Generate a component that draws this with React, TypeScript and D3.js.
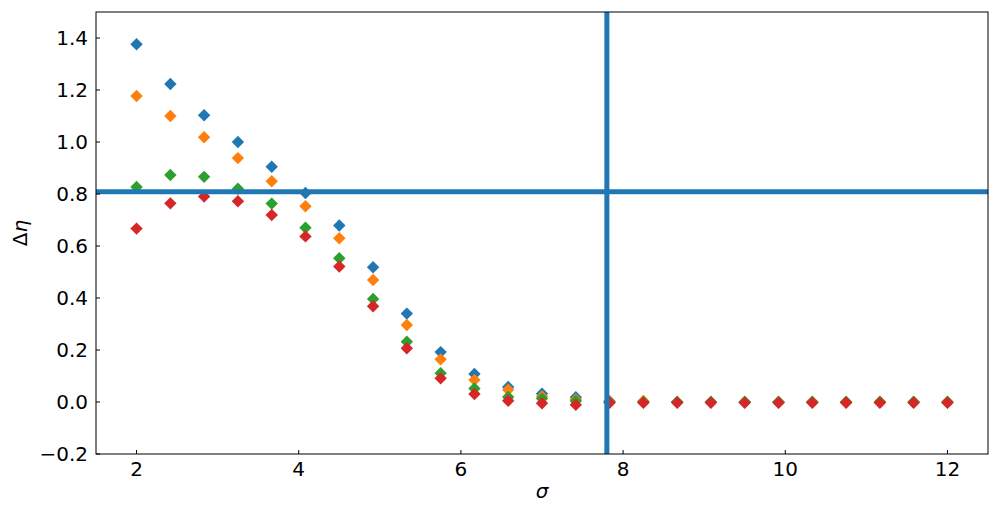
import React from "react";
import * as d3 from "d3";

const sigma = [2, 2.417, 2.833, 3.25, 3.667, 4.083, 4.5, 4.917, 5.333, 5.75, 6.167, 6.583, 7, 7.417, 7.833, 8.25, 8.667, 9.083, 9.5, 9.917, 10.333, 10.75, 11.167, 11.583, 12];
const seriesBlue = [1.376, 1.223, 1.103, 1.0, 0.905, 0.804, 0.679, 0.518, 0.34, 0.192, 0.108, 0.058, 0.032, 0.018, 0.003, 0.001, 0, 0, 0, 0, 0, 0, 0, 0, 0];
const seriesOrange = [1.177, 1.1, 1.018, 0.938, 0.849, 0.753, 0.63, 0.469, 0.296, 0.164, 0.085, 0.047, 0.021, 0.01, 0.002, 0.004, 0, 0, 0, 0, 0, 0, 0, 0, 0];
const seriesGreen = [0.827, 0.873, 0.866, 0.82, 0.763, 0.67, 0.553, 0.396, 0.232, 0.111, 0.052, 0.019, 0.013, 0.004, 0, 0, 0, 0, 0, 0, 0, 0, 0, 0, 0];
const seriesRed = [0.667, 0.764, 0.79, 0.772, 0.719, 0.637, 0.521, 0.368, 0.207, 0.091, 0.031, 0.005, -0.005, -0.011, -0.003, -0.003, -0.003, -0.003, -0.003, -0.003, -0.003, -0.003, -0.003, -0.003, -0.003];
const seriesColors = ["#1f77b4", "#ff7f0e", "#2ca02c", "#d62728"];
const xTicks = [2, 4, 6, 8, 10, 12];
const yTicks = [-0.2, 0, 0.2, 0.4, 0.6, 0.8, 1.0, 1.2, 1.4];
const hLineY = 0.809;
const vLineX = 7.8;

const W = 999, H = 514;
const M = { left: 96, right: 988, top: 12, bottom: 454 };

export default function App() {
  const x = d3.scaleLinear().domain([1.5, 12.5]).range([M.left, M.right]);
  const y = d3.scaleLinear().domain([-0.2, 1.5]).range([M.bottom, M.top]);
  const all = [seriesBlue, seriesOrange, seriesGreen, seriesRed];
  const d = 6.2;
  const diamond = (cx: number, cy: number) =>
    `M${cx},${cy - d}L${cx + d},${cy}L${cx},${cy + d}L${cx - d},${cy}Z`;
  const fmt = (v: number) => {
    const s = v.toFixed(1);
    return v < 0 ? "\u2212" + s.slice(1) : s;
  };
  const font = "'DejaVu Sans', sans-serif";
  const fs = 20;
  return (
    <svg width={W} height={H} style={{ position: "absolute", left: 0, top: 0, display: "block", background: "#fff" }} fontFamily={font}>
      <rect x={0} y={0} width={W} height={H} fill="#fff" />
      <defs>
        <clipPath id="clip">
          <rect x={M.left} y={M.top} width={M.right - M.left} height={M.bottom - M.top} />
        </clipPath>
      </defs>
      <g clipPath="url(#clip)">
        {all.map((ser, si) => (
          <g key={si} fill={seriesColors[si]}>
            {ser.map((v, i) => (
              <path key={i} d={diamond(x(sigma[i]), y(v))} />
            ))}
          </g>
        ))}
        <line x1={M.left} x2={M.right} y1={y(hLineY)} y2={y(hLineY)} stroke="#1f77b4" strokeWidth={5} />
        <line x1={x(vLineX)} x2={x(vLineX)} y1={M.top} y2={M.bottom} stroke="#1f77b4" strokeWidth={5} />
      </g>
      <rect x={M.left} y={M.top} width={M.right - M.left} height={M.bottom - M.top} fill="none" stroke="#000" strokeWidth={1} />
      {xTicks.map((t) => (
        <g key={"x" + t}>
          <line x1={x(t)} x2={x(t)} y1={M.bottom} y2={M.bottom - 4} stroke="#000" strokeWidth={1} />
          <text x={x(t)} y={476} textAnchor="middle" fontSize={fs} fill="#000">{t}</text>
        </g>
      ))}
      {yTicks.map((t) => (
        <g key={"y" + t}>
          <line x1={M.left} x2={M.left + 4} y1={y(t)} y2={y(t)} stroke="#000" strokeWidth={1} />
          <text x={88} y={y(t)} dy="0.36em" textAnchor="end" fontSize={fs} fill="#000">{fmt(t)}</text>
        </g>
      ))}
      <text x={542} y={498} textAnchor="middle" fontSize={fs} fontStyle="italic" fill="#000">σ</text>
      <text transform={`translate(27,${(M.top + M.bottom) / 2}) rotate(-90)`} textAnchor="middle" fontSize={fs} fill="#000">
        Δ<tspan fontStyle="italic">η</tspan>
      </text>
    </svg>
  );
}
